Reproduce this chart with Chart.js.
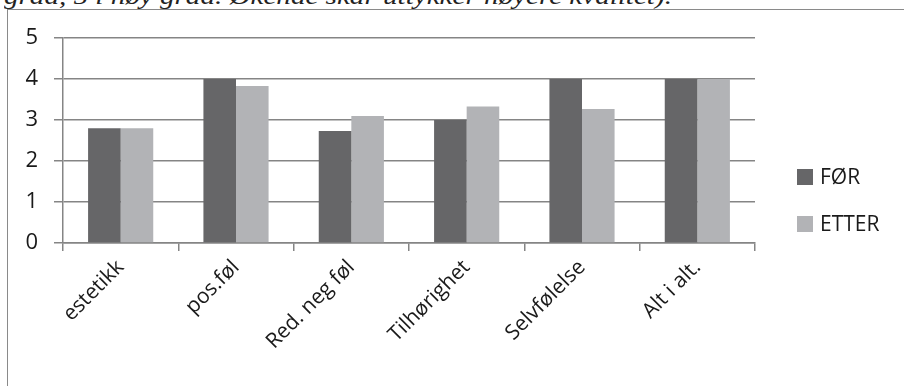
<!DOCTYPE html>
<html>
<head>
<meta charset="utf-8">
<script src="https://cdn.jsdelivr.net/npm/chart.js@4.4.1/dist/chart.umd.min.js"></script>
<style>
  html, body { margin: 0; padding: 0; background: #fff; }
  body { width: 904px; height: 386px; position: relative; overflow: hidden; }
  #caption {
    position: absolute; left: 4px; top: -16px;
    font: italic 24px/24px "Liberation Serif", serif; color: #222;
    white-space: nowrap; transform-origin: 0 0;
  }
  #frame {
    position: absolute; left: 7px; top: 9px; width: 1000px; height: 500px;
    border-top: 1px solid #8a8a8a; border-left: 1px solid #8a8a8a;
  }
  #wrap { position: absolute; left: 0; top: 0; width: 904px; height: 386px; }
</style>
</head>
<body>
<div id="caption">grad, 5 i høy grad. Økende skår uttykker høyere kvalitet).</div>
<div id="frame"></div>
<div id="wrap"><canvas id="chart"></canvas></div>
<script>
// data
const categories = ['estetikk', 'pos.føl', 'Red. neg føl', 'Tilhørighet', 'Selvfølelse', 'Alt i alt.'];
const forValues = [2.8, 4.0, 2.73, 3.0, 4.0, 4.0];
const etterValues = [2.8, 3.83, 3.1, 3.33, 3.27, 4.0];
const yTicks = [0, 1, 2, 3, 4, 5];

// stretch the cut-off caption line to its width in the picture
const cap = document.getElementById('caption');
cap.style.transform = 'scaleX(' + (668 / cap.offsetWidth) + ')';

const FAMILY = '"Open Sans", sans-serif';
const GRID = '#858585';

// legend drawn next to the plot, built from the datasets
const sideLegend = {
  id: 'sideLegend',
  afterDraw(chart) {
    const ctx = chart.ctx;
    const x = chart.chartArea.right + 42;
    ctx.save();
    ctx.font = '21px ' + FAMILY;
    ctx.textBaseline = 'middle';
    chart.data.datasets.forEach((ds, i) => {
      const y = 177 + i * 47;
      ctx.fillStyle = ds.backgroundColor;
      ctx.fillRect(x, y - 8, 16, 16);
      ctx.fillStyle = '#1a1a1a';
      ctx.fillText(ds.label, x + 23, y + 1);
    });
    ctx.restore();
  }
};

new Chart(document.getElementById('chart'), {
  type: 'bar',
  data: {
    labels: categories,
    datasets: [
      { label: 'FØR', data: forValues, backgroundColor: '#666668', categoryPercentage: 0.565, barPercentage: 1 },
      { label: 'ETTER', data: etterValues, backgroundColor: '#b2b3b6', categoryPercentage: 0.565, barPercentage: 1 }
    ]
  },
  options: {
    responsive: true,
    maintainAspectRatio: false,
    animation: false,
    layout: { padding: { left: 0, top: 38, right: 149, bottom: 18 } },
    plugins: { legend: { display: false }, tooltip: { enabled: false } },
    scales: {
      x: {
        grid: { offset: true, drawOnChartArea: false, drawTicks: true, tickLength: 8, color: GRID, lineWidth: 1.5 },
        border: { color: GRID, width: 1.5 },
        ticks: { color: '#1a1a1a', font: { family: FAMILY, size: 21 }, minRotation: 45, maxRotation: 45, padding: 4 },
        afterFit(scale) { scale.height = 125; }
      },
      y: {
        min: 0,
        max: 5,
        afterBuildTicks(scale) { scale.ticks = yTicks.map(v => ({ value: v })); },
        grid: { color: GRID, tickLength: 9, lineWidth: 1.5 },
        border: { color: GRID, width: 1.5 },
        ticks: { color: '#1a1a1a', font: { family: FAMILY, size: 22 }, padding: 16 },
        afterFit(scale) { scale.width = 63; }
      }
    }
  },
  plugins: [sideLegend]
});
</script>
</body>
</html>
